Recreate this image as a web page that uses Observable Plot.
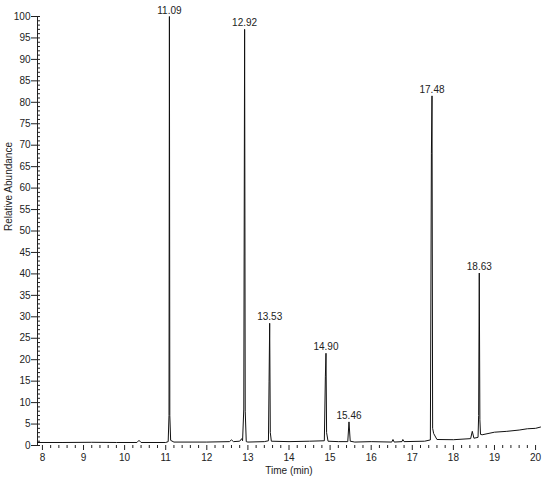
<!DOCTYPE html>
<html>
<head>
<meta charset="utf-8">
<script src="https://cdn.jsdelivr.net/npm/d3@7"></script>
<script src="https://cdn.jsdelivr.net/npm/@observablehq/plot@0.6"></script>
<style>
  html, body { margin: 0; padding: 0; background: #fff; }
  #chart { width: 542px; height: 485px; }
</style>
</head>
<body>
<div id="chart"></div>
<script>
// Chromatogram trace (time in min, relative abundance in %)
const traceTime = [
  7.88, 8.5, 9.2, 9.8, 10.3, 10.35, 10.4, 11.0, 11.06, 11.08, 11.09, 11.10, 11.12, 11.2,
  12.0, 12.55, 12.6, 12.65, 12.8, 12.85, 12.87, 12.90, 12.92, 12.935, 12.96, 13.0,
  13.4, 13.50, 13.515, 13.53, 13.545, 13.57, 14.0, 14.5, 14.86, 14.885, 14.90, 14.915, 14.95,
  15.2, 15.43, 15.46, 15.49, 15.6, 16.0, 16.5, 16.53, 16.56, 16.75, 16.77, 16.8, 17.3,
  17.44, 17.465, 17.48, 17.495, 17.52, 17.6, 18.0, 18.42, 18.46, 18.5, 18.6, 18.615, 18.63,
  18.645, 18.66, 18.7, 19.0, 19.3, 19.6, 19.8, 20.0, 20.12
];
const traceAbundance = [
  0.7, 0.7, 0.75, 0.7, 0.7, 1.2, 0.7, 0.7, 0.9, 7, 100, 7, 1.2, 0.8,
  0.8, 0.9, 1.3, 0.9, 1.0, 1.6, 1.1, 8.5, 97, 8, 0.9, 0.8,
  0.9, 1.1, 15, 28.5, 3, 1.0, 0.9, 1.0, 1.1, 16, 21.5, 3, 1.0,
  0.9, 0.9, 5.5, 1.0, 0.8, 0.9, 0.8, 1.4, 0.8, 0.9, 1.4, 0.9, 1.0,
  1.3, 68, 81.5, 4, 2.8, 1.4, 1.35, 1.6, 3.3, 1.7, 1.9, 7, 40.2,
  6, 2.6, 2.5, 3.1, 3.3, 3.6, 3.9, 4.0, 4.3
];

// Labelled peaks
const peakTimes = [11.09, 12.92, 13.53, 14.90, 15.46, 17.48, 18.63];
const peakHeights = [100, 97, 28.5, 21.5, 5.5, 81.5, 40.2];
const peakLabels = ["11.09", "12.92", "13.53", "14.90", "15.46", "17.48", "18.63"];

// Axis ticks
const xMajorTicks = [8, 9, 10, 11, 12, 13, 14, 15, 16, 17, 18, 19, 20];
const yMajorTicks = [0, 5, 10, 15, 20, 25, 30, 35, 40, 45, 50, 55, 60, 65, 70, 75, 80, 85, 90, 95, 100];

const xMinorTicks = d3.range(40, 101).map(d => d / 5).filter(d => Math.abs(d - Math.round(d)) > 1e-9);
const yMinorTicks = d3.range(0, 101);

const trace = traceTime.map((t, i) => ({t, a: traceAbundance[i]}));
const peaks = peakTimes.map((t, i) => ({t, a: peakHeights[i], label: peakLabels[i]}));

const chart = Plot.plot({
  width: 542,
  height: 485,
  marginLeft: 37,
  marginRight: 2,
  marginTop: 16,
  marginBottom: 40,
  style: {fontFamily: "'Liberation Sans', Arial, sans-serif", fontSize: "10px", color: "#222", background: "#fff"},
  x: {domain: [7.88, 20.12]},
  y: {domain: [0, 100]},
  marks: [
    Plot.axisX(xMajorTicks, {tickSize: 5, tickPadding: 3, label: null, fontSize: 10}),
    Plot.axisX(xMinorTicks, {tickSize: 3, tickFormat: () => "", label: null}),
    Plot.axisY(yMajorTicks, {tickSize: 6, tickPadding: 1, label: null, fontSize: 10}),
    Plot.axisY(yMinorTicks, {tickSize: -3, tickFormat: () => "", label: null}),
    Plot.ruleX([7.88], {y1: 0, y2: 100, stroke: "#222"}),
    Plot.line(trace, {x: "t", y: "a", stroke: "#111", strokeWidth: 1}),
    Plot.text(peaks, {x: "t", y: "a", text: "label", lineAnchor: "bottom", dy: -3, fill: "#222", fontSize: 10}),
    Plot.text(["Time (min)"], {frameAnchor: "bottom", dy: 28, fill: "#222", fontSize: 10}),
    Plot.text(["Relative Abundance"], {frameAnchor: "left", dx: -29, rotate: -90, fill: "#222", fontSize: 10})
  ]
});
document.getElementById("chart").appendChild(chart);
</script>
</body>
</html>
